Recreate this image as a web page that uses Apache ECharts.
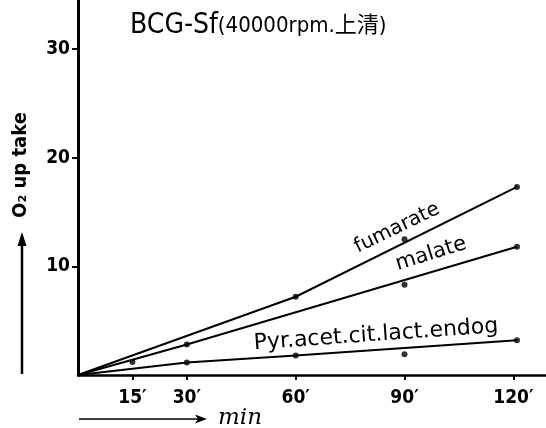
<!DOCTYPE html>
<html>
<head>
<meta charset="utf-8">
<script src="https://cdn.jsdelivr.net/npm/echarts@6/dist/echarts.min.js"></script>
<style>html,body{margin:0;padding:0;background:#fff}#c{width:546px;height:428px}</style>
</head>
<body>
<div id="c"></div>
<script>
// time (min) tick labels
var xTicks = [15, 30, 60, 90, 120];
var yTicks = [10, 20, 30];
// hand-fitted lines [min, O2 uptake]
var fumarateLine = [[0, 0], [60, 7.2], [121, 17.3]];
var malateLine = [[0, 0], [30, 2.8], [121, 11.8]];
var pyrLine = [[0, 0], [30, 1.15], [60, 1.8], [121, 3.2]];
// measured points
var fumarateDots = [[60, 7.2], [90, 12.5], [121, 17.3]];
var malateDots = [[15, 1.2], [30, 2.8], [90, 8.3], [121, 11.8]];
var pyrDots = [[30, 1.15], [60, 1.8], [90, 1.9], [121, 3.2]];

var FONT = "'DejaVu Sans Condensed','DejaVu Sans',sans-serif";
var chart = echarts.init(document.getElementById('c'));

function lineSeries(d) {
  return {type: 'line', data: d, symbol: 'none', lineStyle: {color: '#000', width: 2}, silent: true, z: 3};
}
function dotSeries(d) {
  return {type: 'scatter', data: d, symbol: 'circle', symbolSize: 6, itemStyle: {color: '#000'}, silent: true, z: 4};
}

chart.setOption({
  animation: false,
  backgroundColor: '#fff',
  grid: {left: 78, right: 0, top: 0, bottom: 53},
  xAxis: {
    type: 'value', min: 0, max: 129, interval: 15,
    axisLine: {lineStyle: {color: '#000', width: 2.5}},
    axisTick: {show: true, length: 5, lineStyle: {color: '#000', width: 2}, customValues: xTicks},
    axisLabel: {customValues: xTicks, formatter: function (v) { return v + '\u2032'; },
      color: '#000', fontFamily: FONT, fontWeight: 'bold', fontSize: 19, margin: 14},
    splitLine: {show: false}
  },
  yAxis: {
    type: 'value', min: 0, max: 34.5, interval: 10,
    axisLine: {lineStyle: {color: '#000', width: 3}},
    axisTick: {show: true, length: 6, lineStyle: {color: '#000', width: 2}, customValues: yTicks},
    axisLabel: {customValues: yTicks, color: '#000', fontFamily: FONT, fontWeight: 'bold', fontSize: 19, margin: 8},
    splitLine: {show: false}
  },
  series: [
    lineSeries(fumarateLine), lineSeries(malateLine), lineSeries(pyrLine),
    dotSeries(fumarateDots), dotSeries(malateDots), dotSeries(pyrDots)
  ],
  graphic: [
    {type: 'text', x: 130, y: 26, style: {
      text: '{a|BCG-Sf}{b|(40000rpm.上清)}', verticalAlign: 'middle',
      rich: {
        a: {fontSize: 28, fontFamily: FONT, fill: '#000'},
        b: {fontSize: 22, fontFamily: "'DejaVu Sans Condensed','Noto Sans CJK JP',sans-serif", fill: '#000'}
      }}},
    {type: 'text', x: 21, y: 165, rotation: Math.PI / 2, style: {
      text: 'O\u2082 up take', align: 'center', verticalAlign: 'middle',
      fontSize: 20, fontWeight: 'bold', fontFamily: FONT, fill: '#000'}},
    {type: 'line', shape: {x1: 22, y1: 374, x2: 22, y2: 242}, style: {stroke: '#000', lineWidth: 2.5}},
    {type: 'polygon', shape: {points: [[22, 232], [17.5, 246], [26.5, 246]]}, style: {fill: '#000'}},
    {type: 'line', shape: {x1: 79, y1: 419, x2: 200, y2: 419}, style: {stroke: '#000', lineWidth: 1.5}},
    {type: 'polygon', shape: {points: [[207, 419], [195, 414.5], [198, 419], [195, 423.5]]}, style: {fill: '#000'}},
    {type: 'text', x: 218, y: 418, style: {
      text: 'min', verticalAlign: 'middle', fontSize: 23, fontStyle: 'italic',
      fontFamily: "'DejaVu Serif',serif", fill: '#000'}},
    {type: 'text', x: 397, y: 228, rotation: 0.45, style: {
      text: 'fumarate', align: 'center', verticalAlign: 'middle', fontSize: 20,
      fontFamily: "'DejaVu Sans',sans-serif", fill: '#000'}},
    {type: 'text', x: 431, y: 254, rotation: 0.3, style: {
      text: 'malate', align: 'center', verticalAlign: 'middle', fontSize: 21,
      fontFamily: "'DejaVu Sans',sans-serif", fill: '#000'}},
    {type: 'text', x: 376, y: 335, rotation: 0.07, style: {
      text: 'Pyr.acet.cit.lact.endog', align: 'center', verticalAlign: 'middle', fontSize: 22,
      fontFamily: "'DejaVu Sans',sans-serif", fill: '#000'}}
  ]
});
</script>
</body>
</html>
